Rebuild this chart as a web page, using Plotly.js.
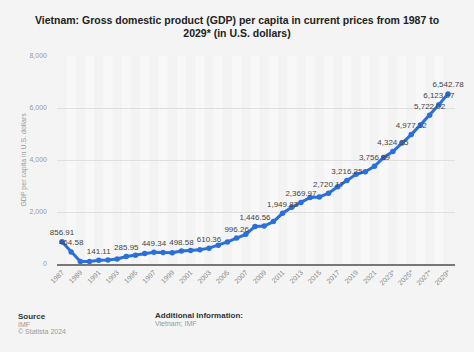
<!DOCTYPE html>
<html>
<head>
<meta charset="utf-8">
<script src="https://cdn.plot.ly/plotly-3.0.1.min.js"></script>
<style>
  html, body { margin: 0; padding: 0; background: #f4f4f4; }
  #chart { width: 474px; height: 352px; }
</style>
</head>
<body>
<div id="chart"></div>
<script>
// ---- Data ----
const years = [1987,1988,1989,1990,1991,1992,1993,1994,1995,1996,1997,1998,1999,2000,2001,2002,2003,2004,2005,2006,2007,2008,2009,2010,2011,2012,2013,2014,2015,2016,2017,2018,2019,2020,2021,2022,2023,2024,2025,2026,2027,2028,2029];
const gdpPerCapita = [856.91,464.58,100,98,141.11,150,190,285.95,340,400,449.34,440,430,498.58,520,550,610.36,720,850,996.26,1140,1446.56,1460,1630,1949.83,2180,2369.97,2560,2580,2720.17,2970,3216.25,3450,3550,3756.89,4100,4324.05,4650,4977.12,5350,5722.02,6123.97,6542.78];
const labelledYears = [1987,1988,1991,1994,1997,2000,2003,2006,2008,2011,2013,2016,2018,2021,2023,2025,2027,2028,2029];
const tickYears = [1987,1989,1991,1993,1995,1997,1999,2001,2003,2005,2007,2009,2011,2013,2015,2017,2019,2021,2023,2025,2027,2029];
const tickLabels = ["1987","1989","1991","1993","1995","1997","1999","2001","2003","2005","2007","2009","2011","2013","2015","2017","2019","2021","2023*","2025*","2027*","2029*"];
const yTicks = [0,2000,4000,6000,8000];
const yTickLabels = ["0","2,000","4,000","6,000","8,000"];

const titleText = "Vietnam: Gross domestic product (GDP) per capita in current prices from 1987 to<br>2029* (in U.S. dollars)";
const yTitle = "GDP per capita in U.S. dollars";

// ---- Layout helpers ----
const W = 474, H = 352;
const M = { l: 57, r: 19, t: 56, b: 88 };
const plotW = W - M.l - M.r, plotH = H - M.t - M.b;
const px2x = px => (px - M.l) / plotW;
const py2y = py => 1 - (py - M.t) / plotH;

function fmt(v) {
  return v.toLocaleString('en-US', { minimumFractionDigits: 2, maximumFractionDigits: 2 });
}
const labels = years.map((y, i) => labelledYears.includes(y) ? fmt(gdpPerCapita[i]) : "");

// subtle alternating vertical bands
const shapes = [];
years.forEach((y, i) => {
  if (i % 2 === 1) {
    shapes.push({ type: 'rect', xref: 'x', yref: 'paper', x0: y - 0.5, x1: y + 0.5, y0: 0, y1: 1,
      fillcolor: '#f8f8f8', line: { width: 0 }, layer: 'below' });
  }
});

const font = "Liberation Sans, Arial, sans-serif";

const trace = {
  x: years, y: gdpPerCapita, type: 'scatter', mode: 'lines+markers+text',
  line: { color: '#2a6fdb', width: 3 },
  marker: { color: '#2a6fdb', size: 5.5 },
  text: labels, textposition: 'top center',
  textfont: { family: font, size: 8, color: '#444' },
  cliponaxis: false, hoverinfo: 'skip'
};

const annotations = [
  { text: '<b>Source</b>', x: px2x(16), y: py2y(316), xanchor: 'left', yanchor: 'middle' , font: { size: 8, color: '#333', family: font } },
  { text: 'IMF', x: px2x(16), y: py2y(324), xanchor: 'left', yanchor: 'middle', font: { size: 7, color: '#999', family: font } },
  { text: '© Statista 2024', x: px2x(16), y: py2y(331), xanchor: 'left', yanchor: 'middle', font: { size: 7, color: '#999', family: font } },
  { text: '<b>Additional Information:</b>', x: px2x(153), y: py2y(315), xanchor: 'left', yanchor: 'middle', font: { size: 8, color: '#333', family: font } },
  { text: 'Vietnam; IMF', x: px2x(153), y: py2y(323), xanchor: 'left', yanchor: 'middle', font: { size: 7, color: '#999', family: font } }
].map(a => Object.assign({ xref: 'paper', yref: 'paper', showarrow: false }, a));

const layout = {
  width: W, height: H,
  margin: M,
  paper_bgcolor: '#f4f4f4',
  plot_bgcolor: '#f3f3f3',
  showlegend: false,
  font: { family: font },
  title: {
    text: '<b>' + titleText + '</b>',
    x: 0.5, xref: 'container', xanchor: 'center',
    y: 1 - 23.5 / H, yref: 'container', yanchor: 'middle',
    font: { family: font, size: 10.5, color: '#222' }
  },
  xaxis: {
    range: [1986.46, 2029.76],
    tickmode: 'array', tickvals: tickYears, ticktext: tickLabels,
    tickangle: -45, tickfont: { size: 7, color: '#888', family: font },
    showgrid: false, zeroline: false,
    showline: true, linecolor: '#777', linewidth: 1.5,
    ticks: '', fixedrange: true
  },
  yaxis: {
    range: [0, 8000],
    tickmode: 'array', tickvals: yTicks, ticktext: yTickLabels,
    tickfont: { size: 7, color: '#999', family: font },
    showgrid: true, gridcolor: '#dedede', gridwidth: 1,
    zeroline: false, showline: false, ticks: '',
    ticklabelstandoff: 9,
    title: { text: yTitle, font: { size: 7, color: '#999', family: font }, standoff: 2 },
    fixedrange: true
  },
  shapes: shapes,
  annotations: annotations
};

Plotly.newPlot('chart', [trace], layout, { displayModeBar: false, staticPlot: true });
</script>
</body>
</html>
